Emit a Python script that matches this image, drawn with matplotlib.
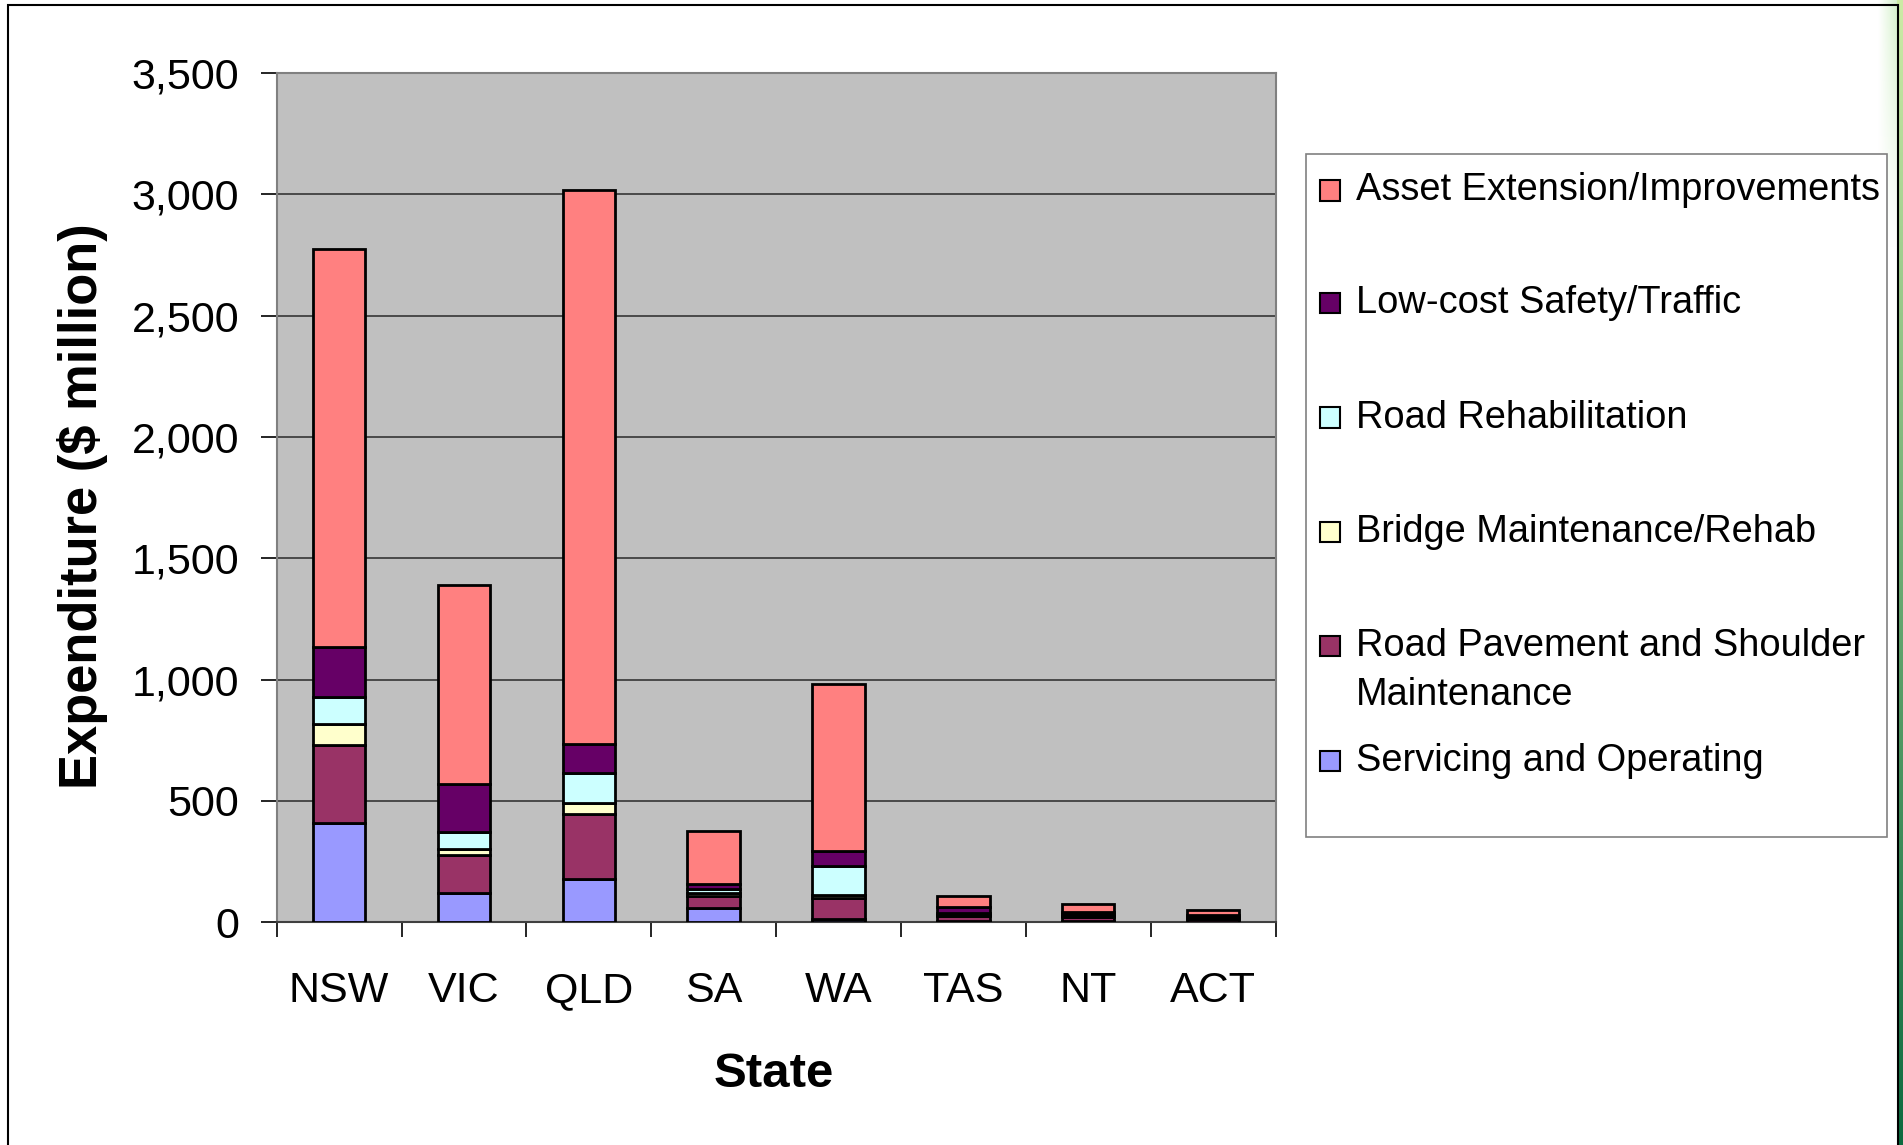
import matplotlib
matplotlib.use("Agg")
import matplotlib.pyplot as plt
import numpy as np
from matplotlib.patches import Rectangle
from matplotlib.ticker import FuncFormatter, FixedLocator

plt.rcParams['font.family'] = ['Liberation Sans', 'DejaVu Sans']

# values ($ million)
states = ['NSW', 'VIC', 'QLD', 'SA', 'WA', 'TAS', 'NT', 'ACT']
servicing = [410, 120, 180, 59, 14, 5, 5, 3]
pavement = [322, 158, 267, 48, 86, 20, 18, 12]
bridge = [86, 23, 45, 12, 13, 5, 3, 2]
rehab = [109, 72, 124, 18, 117, 10, 8, 6]
lowcost = [207, 195, 119, 21, 63, 22, 8, 6]
asset = [1640, 820, 2284, 217, 690, 48, 34, 23]

series = [servicing, pavement, bridge, rehab, lowcost, asset]
colors = ['#9999FF', '#993366', '#FFFFCC', '#CCFFFF', '#660066', '#FF8080']
labels = ['Servicing and Operating', 'Road Pavement and Shoulder\nMaintenance',
          'Bridge Maintenance/Rehab', 'Road Rehabilitation',
          'Low-cost Safety/Traffic', 'Asset Extension/Improvements']

W, H = 1903, 1145
fig = plt.figure(figsize=(W / 100, H / 100), dpi=100)

def fx(px):
    return px / W

def fy(py):
    return 1 - py / H

# green strip at right edge (light at top, dark at bottom)
n = 100
top_c = np.array([0.80, 0.92, 0.65])
bot_c = np.array([0.05, 0.42, 0.25])
grad = np.zeros((n, 2, 3))
for i in range(n):
    grad[i, :] = top_c * (1 - i / (n - 1)) + bot_c * (i / (n - 1))
gax = fig.add_axes([fx(1897), 0, 1 - fx(1897), 1])
gax.imshow(grad, aspect='auto')
gax.axis('off')

# faint haze left of the frame line near the top
haze = np.ones((40, 20, 3))
for i in range(40):
    for j in range(20):
        a = (j / 19.0) * (1 - i / 39.0) * 0.35
        haze[i, j] = (1 - a) * np.ones(3) + a * np.array([0.55, 0.85, 0.45])
hax = fig.add_axes([fx(1878), fy(250), fx(1897) - fx(1878), fy(0) - fy(250)])
hax.imshow(haze, aspect='auto')
hax.axis('off')

# outer frame
fig.patches.append(Rectangle((fx(8), fy(1160)), fx(1898) - fx(8), fy(5) - fy(1160),
                             transform=fig.transFigure, fill=False, ec='black', lw=1.5, zorder=5))

ax = fig.add_axes([fx(276.7), fy(922.3), fx(1275.5) - fx(276.7), fy(72.8) - fy(922.3)])
ax.set_facecolor('#C0C0C0')
x = np.arange(len(states))
bottom = np.zeros(len(states))
for vals, c in zip(series, colors):
    ax.bar(x, vals, 0.42, bottom=bottom, color=c, edgecolor='black', linewidth=2.0, zorder=3)
    bottom += np.array(vals)

ax.set_xlim(-0.5, 7.5)
ax.set_ylim(0, 3500)
ax.set_yticks(np.arange(0, 3501, 500))
ax.yaxis.set_major_formatter(FuncFormatter(lambda v, p: f'{int(v):,}'))
ax.yaxis.grid(True, color='#404040', lw=1.3)
ax.set_axisbelow(True)

ax.set_xticks(x)
ax.set_xticklabels(states)
ax.xaxis.set_minor_locator(FixedLocator(np.arange(-0.5, 8, 1)))
ax.tick_params(axis='x', which='major', length=0, pad=35, labelsize=31)
ax.tick_params(axis='x', which='minor', length=10.5, width=1.2, color='black')
ax.tick_params(axis='y', length=11.5, width=1.2, pad=15.5, labelsize=31)

for s in ['top', 'right', 'left']:
    ax.spines[s].set_color('#808080')
    ax.spines[s].set_linewidth(1.5)
ax.spines['bottom'].set_color('#404040')
ax.spines['bottom'].set_linewidth(1.5)

ax.set_xlabel('State', fontsize=35.5, fontweight='bold')
ax.set_ylabel('Expenditure ($ million)', fontsize=37.8, fontweight='bold')
ax.xaxis.set_label_coords(0.498, -0.153)
ax.yaxis.set_label_coords(-0.169, 0.49)

# legend box
fig.patches.append(Rectangle((fx(1306), fy(837)), fx(1887) - fx(1306), fy(154) - fy(837),
                             transform=fig.transFigure, fill=True, fc='white', ec='#808080', lw=1.2))
leg_y = [761, 645.6, 531.6, 417.5, 303.4, 190.5]
for lab, c, yy in zip(labels, colors, leg_y):
    fig.patches.append(Rectangle((fx(1320), fy(yy + 10)), fx(20), 20 / H,
                                 transform=fig.transFigure, fc=c, ec='black', lw=1.5))
    ty = yy + 25 if '\n' in lab else yy
    fig.text(fx(1356), fy(ty), lab, fontsize=27.4, va='center', ha='left', linespacing=1.48)

fig.savefig('out.png', dpi=100)
